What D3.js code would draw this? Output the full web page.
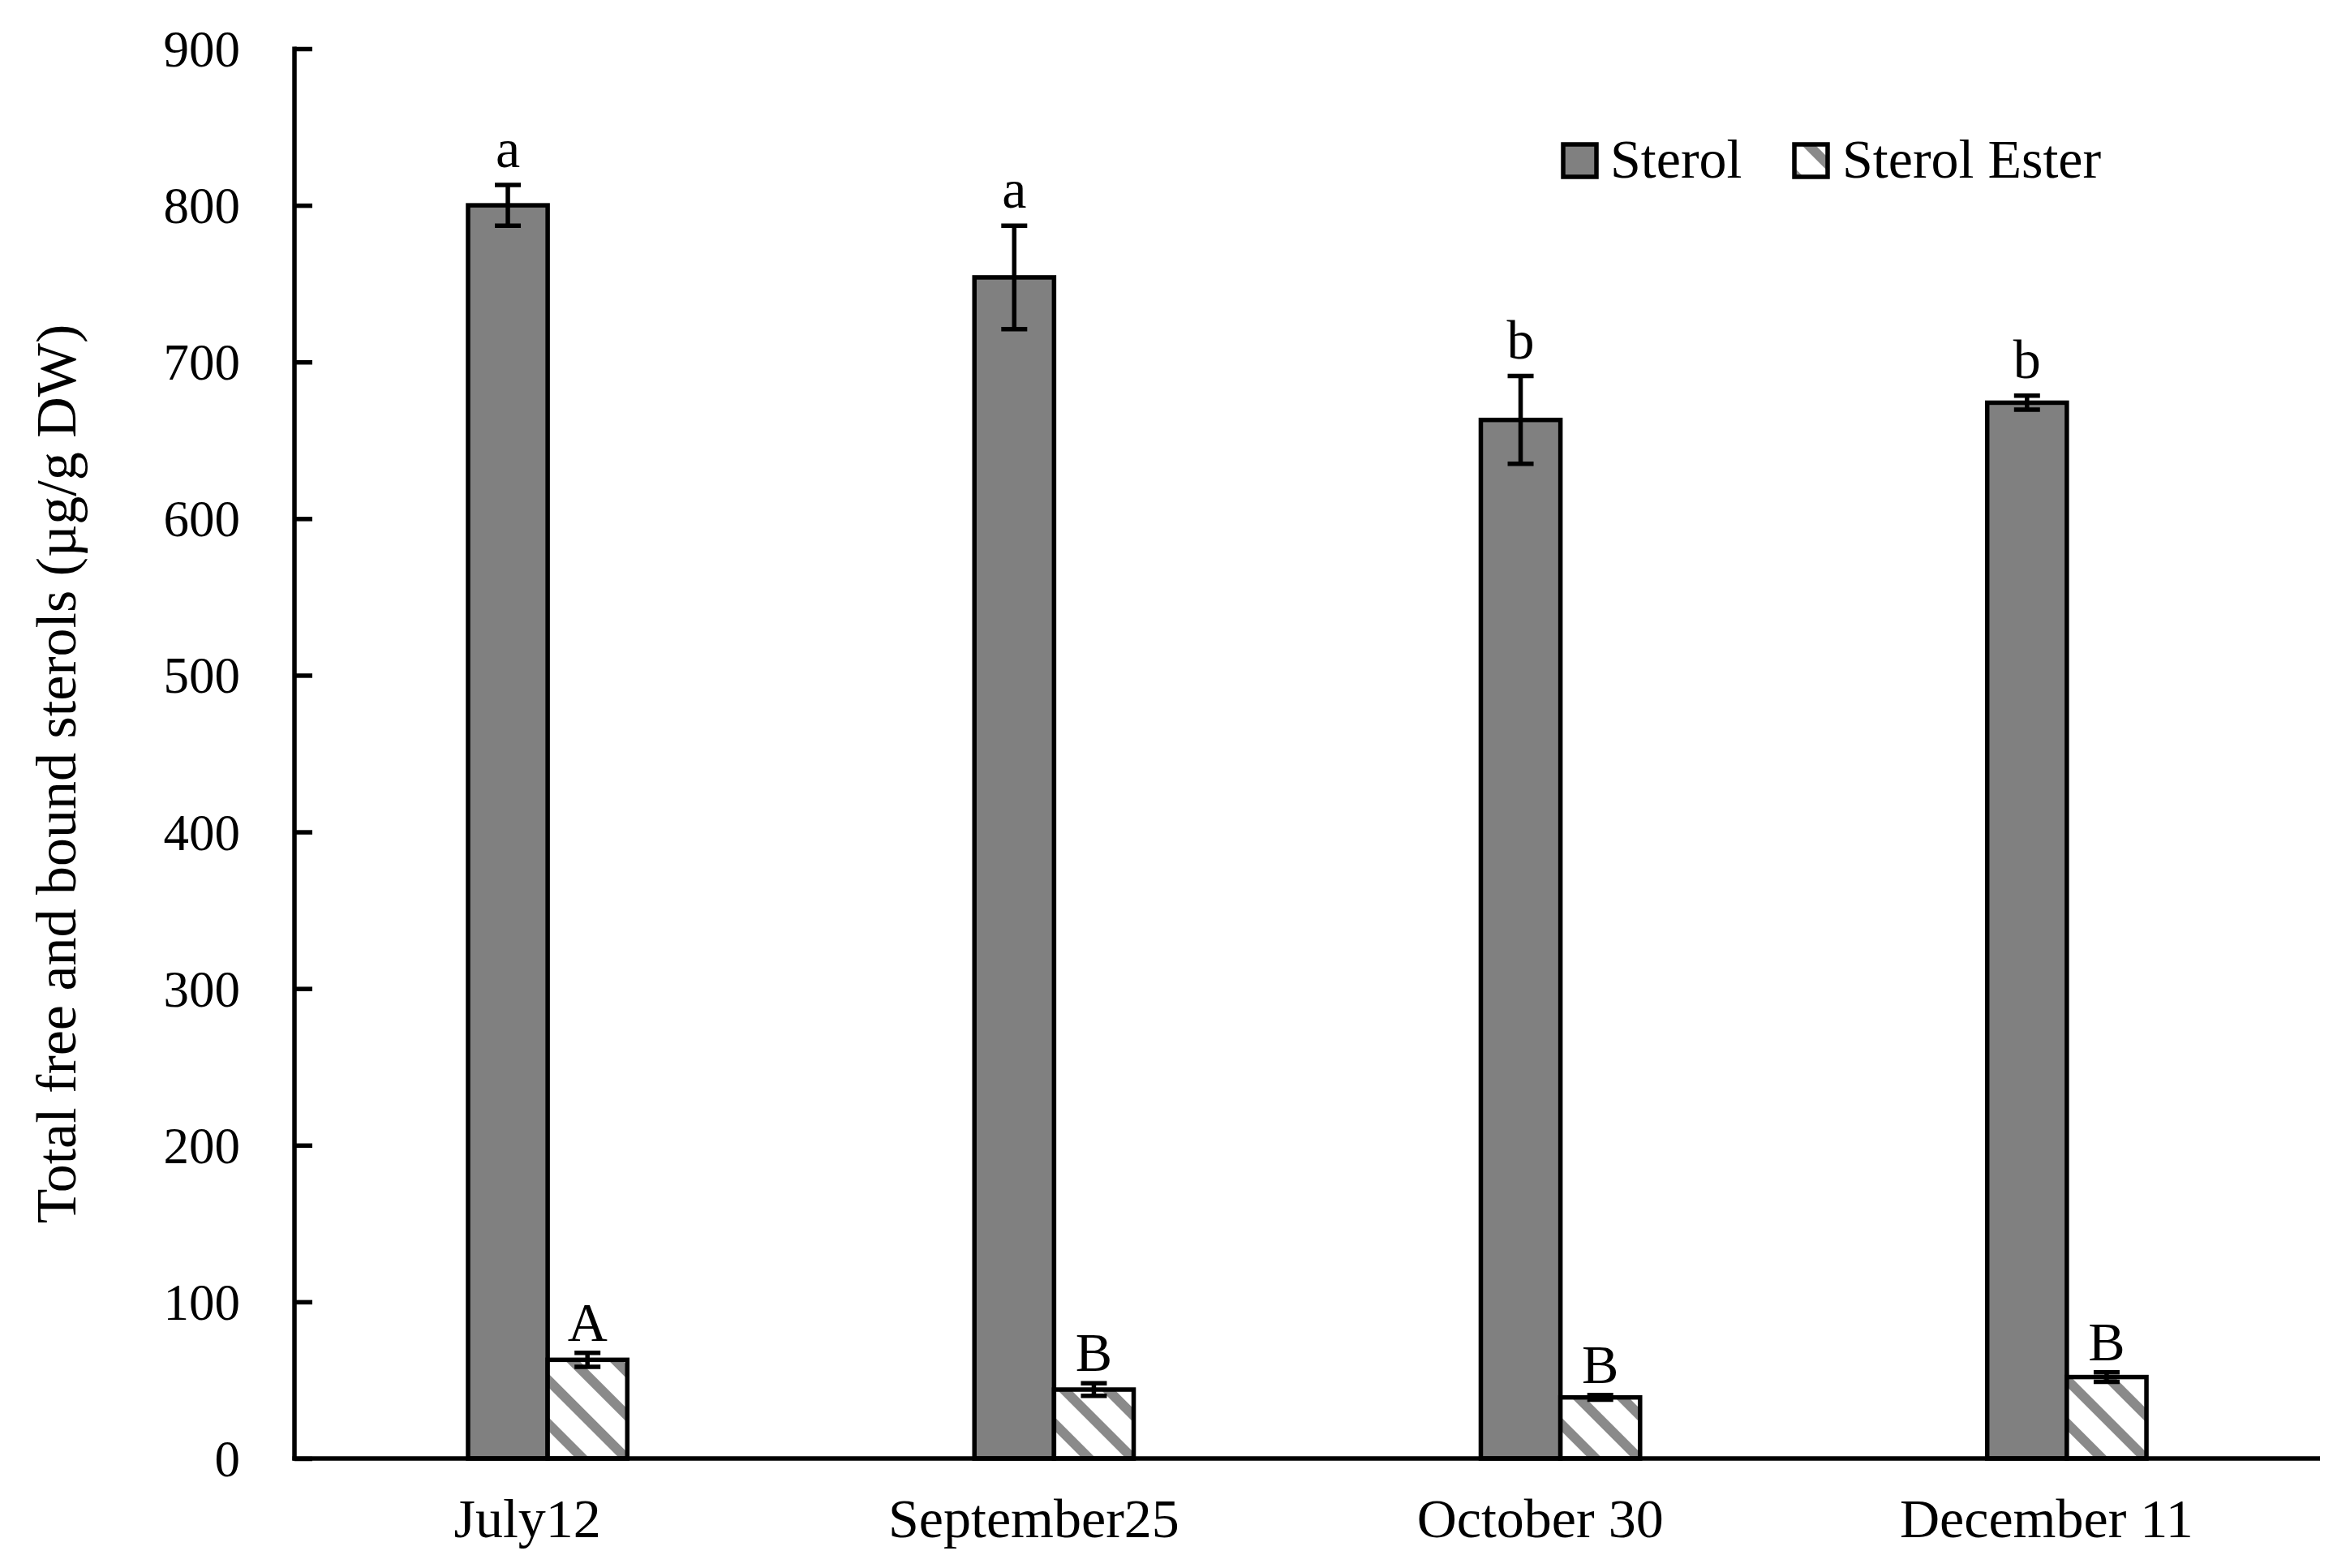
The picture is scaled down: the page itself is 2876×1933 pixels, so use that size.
<!DOCTYPE html>
<html>
<head>
<meta charset="utf-8">
<script src="https://cdn.jsdelivr.net/npm/d3@7"></script>
<style>
  html, body { margin: 0; padding: 0; background: #fff; }
  svg { display: block; }
  text { font-family: "Liberation Serif", "Times New Roman", serif; fill: #000; }
</style>
</head>
<body>
<svg id="chart" width="2876" height="1933"></svg>
<script>
const categories = ["July12", "September25", "October 30", "December 11"];
const seriesNames = ["Sterol", "Sterol Ester"];
const sterol = [800, 754, 663, 674];
const sterolErr = [13, 33, 28, 4.5];
const sterolLetters = ["a", "a", "b", "b"];
const ester = [63, 44, 39, 52];
const esterErr = [4.5, 4, 1.5, 3];
const esterLetters = ["A", "B", "B", "B"];
const yTicks = [0, 100, 200, 300, 400, 500, 600, 700, 800, 900];
const yTitle = "Total free and bound sterols (µg/g DW)";

const svg = d3.select("#chart");
const plotLeft = 363, plotRight = 2860, plotTop = 60, plotBottom = 1798;
const SW = 5.5;

const x = d3.scaleBand().domain(categories).range([plotLeft, plotRight]).padding(0);
const xs = d3.scaleBand().domain(["sterol", "ester"]).range([0, x.bandwidth()])
  .paddingInner(0).paddingOuter(2.18);
const y = d3.scaleLinear().domain([0, 900]).range([plotBottom, plotTop]);

// hatch pattern
const defs = svg.append("defs");
const pat = defs.append("pattern")
  .attr("id", "hatch")
  .attr("patternUnits", "userSpaceOnUse")
  .attr("width", 38).attr("height", 38)
  .attr("patternTransform", "rotate(-45)");
pat.append("rect").attr("width", 38).attr("height", 38).attr("fill", "#fff");
pat.append("rect").attr("x", 0).attr("width", 12).attr("height", 38).attr("fill", "#8a8a8a");

const data = categories.map((c, i) => ({
  c,
  bars: [
    { key: "sterol", v: sterol[i], e: sterolErr[i], l: sterolLetters[i], fill: "#808080", gap: 22 },
    { key: "ester", v: ester[i], e: esterErr[i], l: esterLetters[i], fill: "url(#hatch)", gap: 15 }
  ]
}));

const groups = svg.append("g").selectAll("g").data(data).join("g")
  .attr("transform", d => `translate(${x(d.c)},0)`);

groups.selectAll("rect.bar").data(d => d.bars).join("rect")
  .attr("class", "bar")
  .attr("x", b => xs(b.key))
  .attr("width", xs.bandwidth())
  .attr("y", b => y(b.v))
  .attr("height", b => y(0) - y(b.v))
  .attr("fill", b => b.fill)
  .attr("stroke", "#000")
  .attr("stroke-width", SW);

// error bars
const capW = 32;
const cx = b => xs(b.key) + xs.bandwidth() / 2;
const eb = groups.selectAll("g.err").data(d => d.bars).join("g").attr("class", "err");
eb.append("line")
  .attr("x1", cx).attr("x2", cx)
  .attr("y1", b => y(b.v + b.e))
  .attr("y2", b => y(b.v - b.e))
  .attr("stroke", "#000").attr("stroke-width", SW);
eb.append("line")
  .attr("x1", b => cx(b) - capW / 2)
  .attr("x2", b => cx(b) + capW / 2)
  .attr("y1", b => y(b.v + b.e)).attr("y2", b => y(b.v + b.e))
  .attr("stroke", "#000").attr("stroke-width", SW);
eb.append("line")
  .attr("x1", b => cx(b) - capW / 2)
  .attr("x2", b => cx(b) + capW / 2)
  .attr("y1", b => y(b.v - b.e)).attr("y2", b => y(b.v - b.e))
  .attr("stroke", "#000").attr("stroke-width", SW);

// significance letters
groups.selectAll("text.sig").data(d => d.bars).join("text")
  .attr("class", "sig")
  .attr("x", cx)
  .attr("y", b => y(b.v + b.e) - b.gap)
  .attr("text-anchor", "middle")
  .attr("font-size", 68)
  .text(b => b.l);

// y axis
const yAxis = d3.axisRight(y).tickValues(yTicks).tickSize(22).tickFormat("");
const gy = svg.append("g").attr("transform", `translate(${plotLeft},0)`).call(yAxis);
gy.select(".domain").remove();
gy.selectAll(".tick line").attr("stroke", "#000").attr("stroke-width", SW);
gy.append("line").attr("x1", 0).attr("x2", 0).attr("y1", y(900) - 2.5).attr("y2", y(0) + 2.5)
  .attr("stroke", "#000").attr("stroke-width", SW);
svg.append("g").selectAll("text").data(yTicks).join("text")
  .attr("x", 296)
  .attr("y", d => y(d))
  .attr("dy", "0.35em")
  .attr("text-anchor", "end")
  .attr("font-size", 63)
  .text(d => d);

// x axis
const xAxis = d3.axisBottom(x).tickSize(0).tickPadding(0);
const gx = svg.append("g").attr("transform", `translate(0,${plotBottom})`).call(xAxis);
gx.select(".domain").remove();
gx.append("line").attr("x1", plotLeft - 2.5).attr("x2", plotRight).attr("y1", 0).attr("y2", 0)
  .attr("stroke", "#000").attr("stroke-width", SW);
gx.selectAll(".tick text")
  .attr("font-size", 68)
  .attr("font-family", "'Liberation Serif', 'Times New Roman', serif")
  .attr("fill", "#000")
  .attr("dx", -25)
  .attr("y", 97)
  .attr("dy", 0);

// y title
svg.append("text")
  .attr("transform", `translate(93,954) rotate(-90)`)
  .attr("text-anchor", "middle")
  .attr("font-size", 70)
  .text(yTitle);

// legend
const legend = svg.append("g");
const legItems = [
  { name: seriesNames[0], fill: "#808080", sx: 1927, tx: 1985 },
  { name: seriesNames[1], fill: "url(#hatch)", sx: 2212, tx: 2271 }
];
legItems.forEach(it => {
  legend.append("rect").attr("x", it.sx).attr("y", 178).attr("width", 41).attr("height", 40)
    .attr("fill", it.fill).attr("stroke", "#000").attr("stroke-width", 5.5);
  legend.append("text").attr("x", it.tx).attr("y", 219).attr("font-size", 68).text(it.name);
});
</script>
</body>
</html>
